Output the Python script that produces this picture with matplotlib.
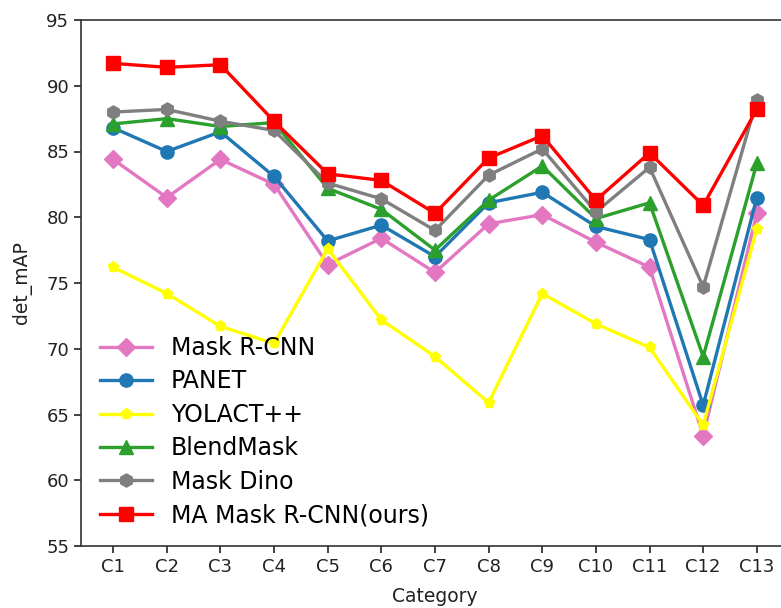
import matplotlib
matplotlib.use("Agg")
import matplotlib.pyplot as plt

categories = ["C1", "C2", "C3", "C4", "C5", "C6", "C7", "C8", "C9", "C10", "C11", "C12", "C13"]

mask_rcnn = [84.4, 81.5, 84.4, 82.5, 76.4, 78.4, 75.8, 79.5, 80.2, 78.1, 76.2, 63.4, 80.3]
panet = [86.8, 85.0, 86.5, 83.1, 78.2, 79.4, 77.0, 81.1, 81.9, 79.3, 78.3, 65.7, 81.5]
yolact = [76.2, 74.2, 71.7, 70.4, 77.6, 72.2, 69.4, 65.9, 74.2, 71.9, 70.1, 64.2, 79.1]
blendmask = [87.1, 87.5, 86.9, 87.2, 82.2, 80.6, 77.5, 81.3, 83.9, 79.9, 81.1, 69.4, 84.1]
mask_dino = [88.0, 88.2, 87.3, 86.6, 82.6, 81.4, 79.0, 83.2, 85.2, 80.4, 83.8, 74.7, 88.9]
ma_mask_rcnn = [91.7, 91.4, 91.6, 87.3, 83.3, 82.8, 80.3, 84.5, 86.2, 81.3, 84.9, 80.9, 88.2]

series = [
    ("Mask R-CNN", mask_rcnn, "#e377c2", "D", 9.5),
    ("PANET", panet, "#1f77b4", "o", 9.5),
    ("YOLACT++", yolact, "#ffff00", "p", 8),
    ("BlendMask", blendmask, "#2ca02c", "^", 9.5),
    ("Mask Dino", mask_dino, "#7f7f7f", "h", 9.5),
    ("MA Mask R-CNN(ours)", ma_mask_rcnn, "#ff0000", "s", 9.5),
]

fig = plt.figure(figsize=(7.81, 6.08), dpi=100)
W, H = 781, 608
ax = fig.add_axes([81 / W, (H - 546) / H, (789 - 81) / W, (546 - 20) / H])

x = list(range(len(categories)))
for label, vals, color, marker, ms in series:
    ax.plot(x, vals, color=color, marker=marker, markersize=ms,
            linewidth=2.4, label=label)

ax.set_xlim(-0.6, len(categories) - 1 + 0.6)
ax.set_ylim(55, 95)
ax.set_xticks(x)
ax.set_xticklabels(categories)
ax.set_yticks(range(55, 96, 5))
ax.tick_params(axis="both", labelsize=13, length=5, width=1.2, colors="#222222")
for sp in ax.spines.values():
    sp.set_linewidth(1.2)
    sp.set_color("#333333")

ax.set_xlabel("Category", fontsize=13.5, color="#222222", labelpad=8)
ax.set_ylabel("det_mAP", fontsize=13.5, color="#222222", labelpad=10)

ax.legend(loc="lower left", fontsize=17, frameon=False,
          handlelength=2.2, handletextpad=0.8, labelspacing=0.4,
          borderaxespad=0.4)

fig.savefig("out.png", dpi=100)
